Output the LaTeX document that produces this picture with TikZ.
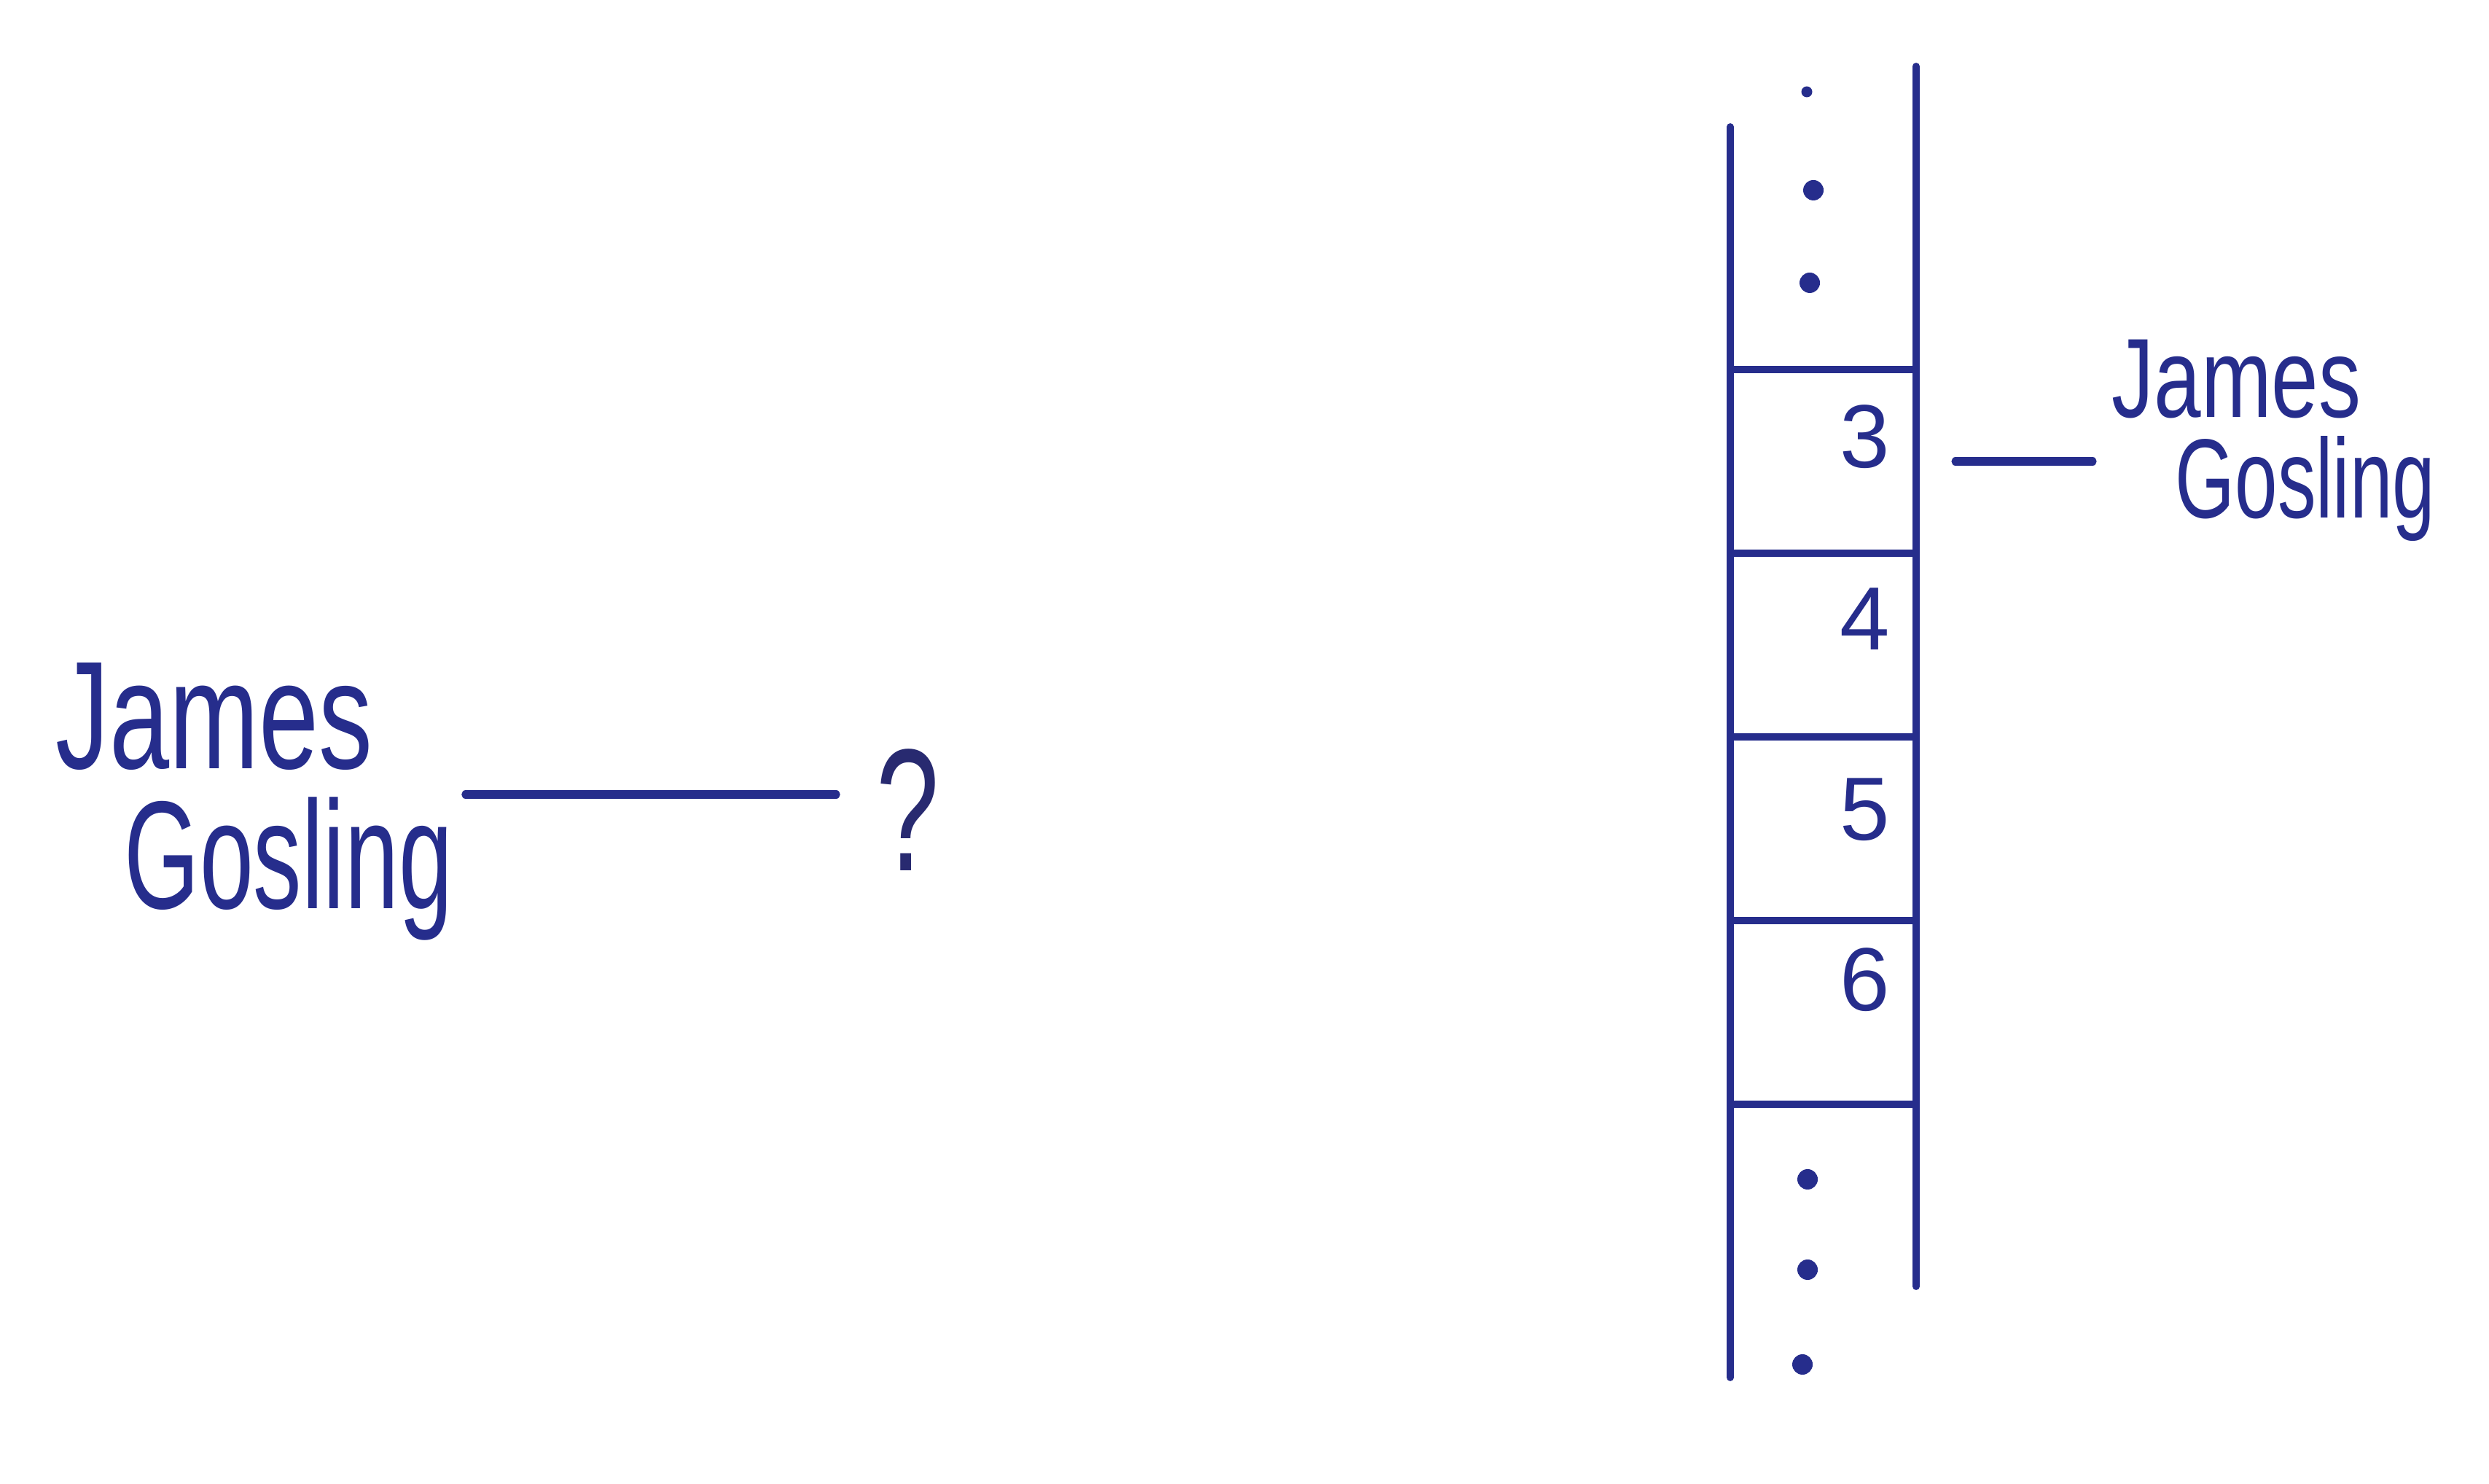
\documentclass[tikz,border=0pt]{standalone}
\usepackage{fontspec}
\setmainfont{Liberation Sans}
\usepackage{graphicx}
\usepackage{tikz}
\definecolor{penBlue}{RGB}{38,45,140}
\definecolor{inkNavy}{RGB}{40,42,112}

\begin{document}
\begin{tikzpicture}[
  bigname/.style={text=penBlue, inner sep=0pt, anchor=base west, font=\fontsize{60}{60}\selectfont},
  smallname/.style={bigname, font=\fontsize{44}{44}\selectfont},
  num/.style={text=penBlue, inner sep=0pt, font=\fontsize{35}{35}\selectfont},
  cell/.style={draw=penBlue, line width=2.8pt, minimum width=2.55cm, minimum height=2.52cm,
              inner sep=0pt, outer sep=0pt},
  pen/.style={draw=penBlue, line width=2.8pt, line cap=round},
  wire/.style={draw=penBlue, line width=3.2pt, line cap=round},
  dot/.style={circle, fill=penBlue, inner sep=0pt, minimum size=0.28cm}
]
\fill[white] (0,0) rectangle (34.15,20.35);

% left: name with unknown slot
\node[bigname] (ljam) at (0.76,9.80) {\scalebox{.70}[1]{James}};
\node[bigname] (lgos) at (1.70,7.88) {\scalebox{.63}[1]{Gosling}};
\node[text=inkNavy, inner sep=0pt, font=\fontsize{68}{68}\selectfont] (quest) at (12.46,9.24)
  {\scalebox{.65}[1]{?}};
\coordinate (qin) at ([yshift=0.21cm]quest.west);

\draw[wire, shorten <=0.17cm, shorten >=0.55cm] (lgos.east |- qin) -- (qin);

% right: the array
\node[cell] (c3) at (25.015,14.02) {};
\node[cell] (c4) at (25.015,11.50) {};
\node[cell] (c5) at (25.015,8.98) {};
\node[cell] (c6) at (25.015,6.46) {};

\draw[pen] (c3.north west) -- ++(0,3.33);
\draw[pen] (c3.north east) -- ++(0,4.16);
\draw[pen] (c6.south west) -- ++(0,-3.75);
\draw[pen] (c6.south east) -- ++(0,-2.50);

\node[num] (n3) at (25.59,14.36) {3};
\node[num] (n4) at (25.59,11.86) {4};
\node[num] (n5) at (25.59,9.24) {5};
\node[num] (n6) at (25.59,6.91) {6};

\node[dot, minimum size=0.15cm] (up1) at (24.79,19.09) {};
\node[dot] (up2) at (24.88,17.74) {};
\node[dot] (up3) at (24.83,16.47) {};
\node[dot] (dn1) at (24.80,4.17) {};
\node[dot] (dn2) at (24.80,2.93) {};
\node[dot] (dn3) at (24.73,1.63) {};

\node[smallname] (rjam) at (28.97,14.62) {\scalebox{.75}[1]{James}};
\node[smallname] (rgos) at (29.84,13.24) {\scalebox{.68}[1]{Gosling}};

\draw[wire, shorten <=0.54cm, shorten >=0.26cm] (c3.east) -- (rjam.west |- c3.east);

\end{tikzpicture}
\end{document}
